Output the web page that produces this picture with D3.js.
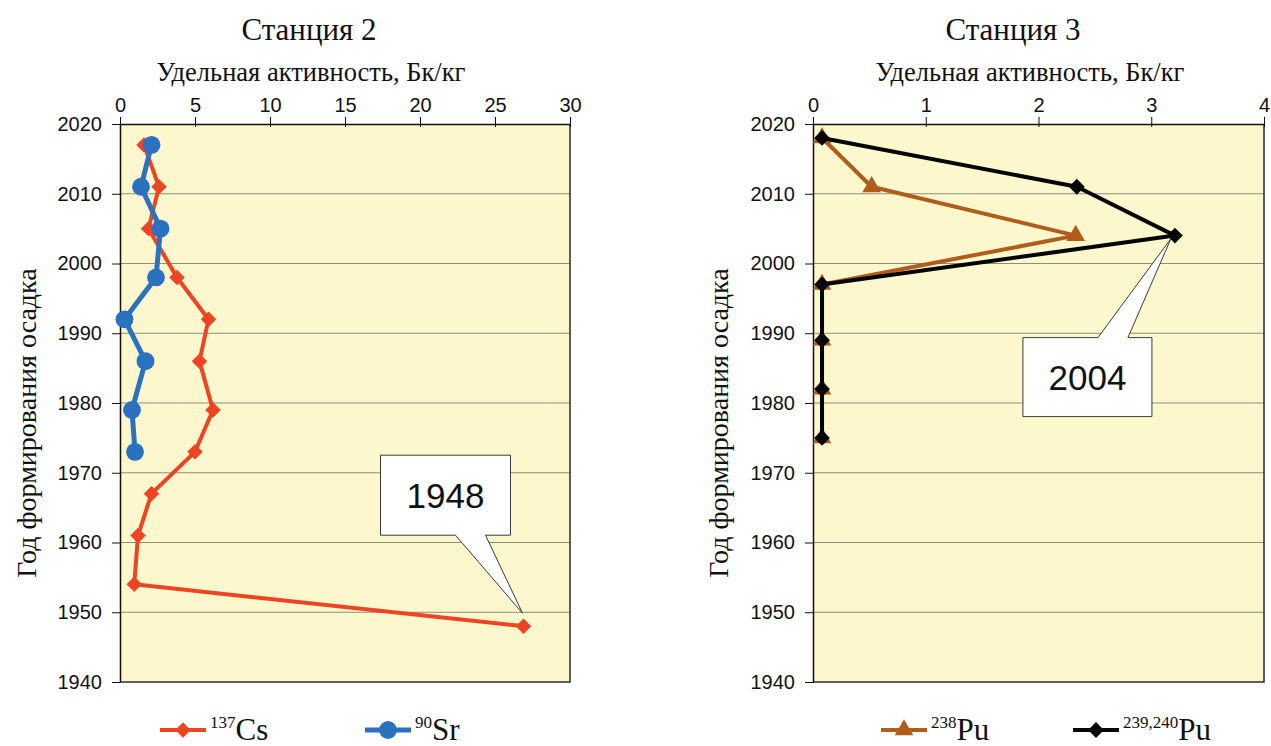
<!DOCTYPE html>
<html>
<head>
<meta charset="utf-8">
<script src="https://cdn.jsdelivr.net/npm/d3@7"></script>
<style>
  html, body { margin: 0; padding: 0; background: #ffffff; }
  svg { display: block; }
</style>
</head>
<body>
<svg id="chart" width="1271" height="746"></svg>
<script>
// Station 2: 137Cs and 90Sr specific activity by sediment year
const csYears  = [2017, 2011, 2005, 1998, 1992, 1986, 1979, 1973, 1967, 1961, 1954, 1948];
const csValues = [1.6, 2.6, 1.9, 3.8, 5.9, 5.3, 6.2, 5.0, 2.1, 1.2, 0.95, 26.9];
const srYears  = [2017, 2011, 2005, 1998, 1992, 1986, 1979, 1973];
const srValues = [2.1, 1.4, 2.7, 2.4, 0.3, 1.7, 0.8, 1.0];

// Station 3: plutonium isotopes
const puYears   = [2018, 2011, 2004, 1997, 1989, 1982, 1975];
const pu238     = [0.08, 0.52, 2.33, 0.08, 0.08, 0.08, 0.08];
const pu239240  = [0.08, 2.34, 3.21, 0.08, 0.08, 0.08, 0.08];

// Axes
const yearTicks = [2020, 2010, 2000, 1990, 1980, 1970, 1960, 1950, 1940];
const st2Ticks  = [0, 5, 10, 15, 20, 25, 30];
const st3Ticks  = [0, 1, 2, 3, 4];

const titles    = ["Станция 2", "Станция 3"];
const xTitle    = "Удельная активность, Бк/кг";
const yTitle    = "Год формирования осадка";

const SERIF = "'Liberation Serif', 'Times New Roman', serif";
const SANS  = "'Liberation Sans', Arial, sans-serif";

const svg = d3.select("#chart");

function panel(cfg) {
  const g = svg.append("g");
  const x = d3.scaleLinear().domain(cfg.xDomain).range([cfg.left, cfg.right]);
  const y = d3.scaleLinear().domain([1940, 2020]).range([682, 124]);

  // plot background
  g.append("rect")
    .attr("x", cfg.left).attr("y", y(2020))
    .attr("width", cfg.right - cfg.left).attr("height", y(1940) - y(2020))
    .attr("fill", "#fcf7cd");

  // horizontal grid
  g.append("g").selectAll("line").data(yearTicks.slice(1, -1)).join("line")
    .attr("x1", cfg.left).attr("x2", cfg.right)
    .attr("y1", d => y(d)).attr("y2", d => y(d))
    .attr("stroke", "#8f8c7e").attr("stroke-width", 1);

  // frame (right and bottom)
  g.append("path")
    .attr("d", `M${cfg.right},${y(2020)}V${y(1940)}H${cfg.left}`)
    .attr("fill", "none").attr("stroke", "#2b2a30").attr("stroke-width", 1.5);

  // top axis
  const xAxis = d3.axisTop(x).tickValues(cfg.xTicks).tickFormat(d3.format("d"))
    .tickSize(7).tickSizeOuter(0).tickPadding(5);
  const xa = g.append("g").attr("transform", `translate(0,${y(2020)})`).call(xAxis);
  xa.select(".domain").attr("stroke", "#111").attr("stroke-width", 1.5);
  xa.selectAll(".tick line").attr("stroke", "#111").attr("y2", 3).attr("y1", -7);
  xa.selectAll("text").attr("font-family", SANS).attr("font-size", 20).attr("fill", "#111");

  // left axis
  const yAxis = d3.axisLeft(y).tickValues(yearTicks).tickFormat(d3.format("d"))
    .tickSize(8).tickSizeOuter(0).tickPadding(10);
  const ya = g.append("g").attr("transform", `translate(${cfg.left},0)`).call(yAxis);
  ya.select(".domain").attr("stroke", "#111").attr("stroke-width", 1.5);
  ya.selectAll(".tick line").attr("stroke", "#111");
  ya.selectAll("text").attr("font-family", SANS).attr("font-size", 20).attr("fill", "#111");

  // titles
  g.append("text").attr("x", cfg.titleX).attr("y", 40).attr("text-anchor", "middle")
    .attr("font-family", SERIF).attr("font-size", 31).attr("fill", "#111").text(cfg.title);
  g.append("text").attr("x", cfg.xTitleX).attr("y", 81).attr("text-anchor", "middle")
    .attr("font-family", SERIF).attr("font-size", 26.5).attr("fill", "#111").text(xTitle);
  g.append("text").attr("transform", `translate(${cfg.yTitleX},${y(1980) + 20}) rotate(-90)`)
    .attr("text-anchor", "middle")
    .attr("font-family", SERIF).attr("font-size", 28).attr("fill", "#111").text(yTitle);

  // series
  cfg.series.forEach(s => {
    const pts = s.years.map((yr, i) => [x(s.values[i]), y(yr)]);
    g.append("path").attr("d", d3.line()(pts))
      .attr("fill", "none").attr("stroke", s.color).attr("stroke-width", s.width)
      .attr("stroke-linejoin", "round");
    g.append("g").selectAll("path").data(pts).join("path")
      .attr("transform", d => `translate(${d[0]},${d[1]})${s.rotate ? " rotate(45)" : ""}`)
      .attr("d", d3.symbol().type(s.symbol).size(s.size))
      .attr("fill", s.color);
  });

  // callout
  const c = cfg.callout;
  const s = cfg.series.find(d => d.key === c.key);
  const i = s.years.indexOf(c.year);
  const px = x(s.values[i]), py = y(c.year);
  const bx = px + c.dx, by = py + c.dy, bw = c.w, bh = c.h;
  const tx = px + c.tipDx, ty = py + c.tipDy;
  let d;
  if (c.dy < 0) {
    d = `M${bx},${by}H${bx + bw}V${by + bh}H${bx + c.b2}L${tx},${ty}L${bx + c.b1},${by + bh}H${bx}Z`;
  } else {
    d = `M${bx},${by}H${bx + c.b1}L${tx},${ty}L${bx + c.b2},${by}H${bx + bw}V${by + bh}H${bx}Z`;
  }
  g.append("path").attr("d", d).attr("fill", "#ffffff").attr("stroke", "#3a3a3a").attr("stroke-width", 1);
  g.append("text").attr("x", bx + bw / 2).attr("y", by + bh / 2 + 12.5).attr("text-anchor", "middle")
    .attr("font-family", SANS).attr("font-size", 35).attr("fill", "#111").text(c.label);

  // legend
  cfg.series.forEach(s => {
    const lg = g.append("g").attr("transform", `translate(${s.legendX},730)`);
    lg.append("line").attr("x1", 0).attr("x2", 46).attr("stroke", s.color).attr("stroke-width", s.width);
    lg.append("path").attr("transform", `translate(23,0)${s.rotate ? " rotate(45)" : ""}`)
      .attr("d", d3.symbol().type(s.symbol).size(s.size)).attr("fill", s.color);
    const t = lg.append("text").attr("x", 50).attr("y", 10)
      .attr("font-family", SERIF).attr("fill", "#111");
    t.append("tspan").attr("font-size", 17).attr("dy", -12).text(s.sup);
    t.append("tspan").attr("font-size", 31).attr("dy", 12).text(s.name);
  });
}

panel({
  left: 120, right: 570, xDomain: [0, 30], xTicks: st2Ticks,
  title: titles[0], titleX: 309, xTitleX: 311, yTitleX: 36,
  series: [
    { key: "cs", years: csYears, values: csValues, color: "#ef4423", width: 4,
      symbol: d3.symbolSquare, rotate: true, size: 120, sup: "137", name: "Cs", legendX: 160 },
    { key: "sr", years: srYears, values: srValues, color: "#2a72c0", width: 5,
      symbol: d3.symbolCircle, rotate: false, size: 250, sup: "90", name: "Sr", legendX: 365 }
  ],
  callout: { key: "cs", year: 1948, label: "1948", dx: -143, dy: -171, w: 130, h: 80,
             b1: 75, b2: 105, tipDx: -1, tipDy: -13 }
});

panel({
  left: 813, right: 1264, xDomain: [0, 4], xTicks: st3Ticks,
  title: titles[1], titleX: 1013, xTitleX: 1030, yTitleX: 728,
  series: [
    { key: "pu238", years: puYears, values: pu238, color: "#b05c1c", width: 4,
      symbol: d3.symbolTriangle, rotate: false, size: 150, sup: "238", name: "Pu", legendX: 881 },
    { key: "pu239", years: puYears, values: pu239240, color: "#050505", width: 4,
      symbol: d3.symbolSquare, rotate: true, size: 125, sup: "239,240", name: "Pu", legendX: 1073 }
  ],
  callout: { key: "pu239", year: 2004, label: "2004", dx: -152, dy: 102, w: 129, h: 79,
             b1: 75, b2: 105, tipDx: -4, tipDy: 3 }
});
</script>
</body>
</html>
